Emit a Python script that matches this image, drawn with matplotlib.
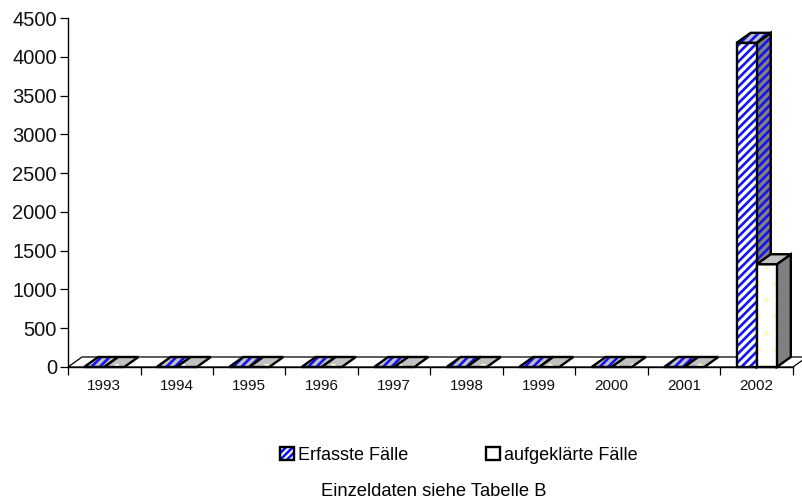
import matplotlib
matplotlib.use('Agg')
import matplotlib.pyplot as plt
from matplotlib.patches import Polygon, Patch
from matplotlib.legend_handler import HandlerTuple

plt.rcParams['font.family'] = ['Liberation Sans', 'DejaVu Sans']
plt.rcParams['hatch.linewidth'] = 1.9

years = ['1993', '1994', '1995', '1996', '1997', '1998', '1999', '2000', '2001', '2002']
erfasst = [0, 0, 0, 0, 0, 0, 0, 0, 0, 4180]
aufgeklaert = [0, 0, 0, 0, 0, 0, 0, 0, 0, 1325]
y_ticks = [0, 500, 1000, 1500, 2000, 2500, 3000, 3500, 4000, 4500]

BLUE = '#1414f0'
DOTS = '#fafad2'

W, H = 803, 501
fig = plt.figure(figsize=(W / 100, H / 100), dpi=100)
ax = fig.add_axes([68 / W, 1 - 367 / H, 725 / W, 349 / H])
ax.set_xlim(0, 10)
ax.set_ylim(0, 4500)

# depth of the fake 3d box in data units
dx = 14 / 72.5
dy = 10 * 4500 / 349
bar_w = 0.277


def poly(pts, fc, hatch=None, hc=None, z=3):
    if hatch:
        ax.add_patch(Polygon(pts, closed=True, facecolor=fc, edgecolor=hc, hatch=hatch,
                             linewidth=0, clip_on=False, zorder=z))
    else:
        ax.add_patch(Polygon(pts, closed=True, facecolor=fc, edgecolor='none',
                             clip_on=False, zorder=z))
    ax.add_patch(Polygon(pts, closed=True, fill=False, edgecolor='black', linewidth=1.7,
                         joinstyle='miter', clip_on=False, zorder=z + 0.1))


def box(x0, h, front, side, top, hatch, hc, side_hatch, z):
    x1 = x0 + bar_w
    if h > 0:
        poly([(x1, 0), (x1 + dx, dy), (x1 + dx, h + dy), (x1, h)], side, side_hatch, hc, z)
        poly([(x0, 0), (x1, 0), (x1, h), (x0, h)], front, hatch, hc, z + 0.2)
    poly([(x0, h), (x1, h), (x1 + dx, h + dy), (x0 + dx, h + dy)], top, hatch, hc, z + 0.4)


# floor
ax.add_patch(Polygon([(0, 0), (dx, dy), (10 + dx, dy), (10, 0)], closed=True, facecolor='white',
                     edgecolor='black', linewidth=0.9, clip_on=False, zorder=1))

for i in range(len(years)):
    c = i + 0.5
    box(c - bar_w, erfasst[i], 'white', '#808080', '#c0c0c0', '////', BLUE, '////', 3)
    box(c, aufgeklaert[i], 'white', '#808080', '#c0c0c0', '.', DOTS, None, 4)

ax.set_xticks(range(11))
ax.set_xticklabels([])
ax.set_xticks([i + 0.5 for i in range(10)], minor=True)
ax.set_xticklabels(years, minor=True, fontsize=11)
ax.tick_params(axis='x', which='minor', length=0, pad=9, colors='#111111')
ax.tick_params(axis='x', which='major', direction='out', length=6, width=0.9)
ax.set_yticks(y_ticks)
ax.tick_params(axis='y', direction='out', length=6, width=0.9, labelsize=14.5, pad=2, labelcolor='#111111')
for s in ['top', 'right']:
    ax.spines[s].set_visible(False)
ax.spines['left'].set_linewidth(1.0)
ax.spines['bottom'].set_linewidth(1.0)
ax.spines['bottom'].set_zorder(2)
ax.patch.set_visible(False)

stripes = Patch(facecolor='white', edgecolor=BLUE, hatch='/////', linewidth=0)
outline = Patch(fill=False, edgecolor='black', linewidth=1.7)
plain = Patch(facecolor='white', edgecolor='black', linewidth=1.7)
fig.legend([(stripes, outline), plain], ['Erfasste Fälle', 'aufgeklärte Fälle'], ncol=2, frameon=False,
           fontsize=13, handlelength=0.75, handleheight=0.7, handletextpad=0.25,
           columnspacing=4.3, loc='center', bbox_to_anchor=(459 / W, 1 - 455 / H),
           handler_map={tuple: HandlerTuple(ndivide=1, pad=0)})

fig.text(433.5 / W, 1 - 491 / H, 'Einzeldaten siehe Tabelle B', ha='center', va='center', fontsize=13.2)

fig.savefig('out.png', dpi=100)
